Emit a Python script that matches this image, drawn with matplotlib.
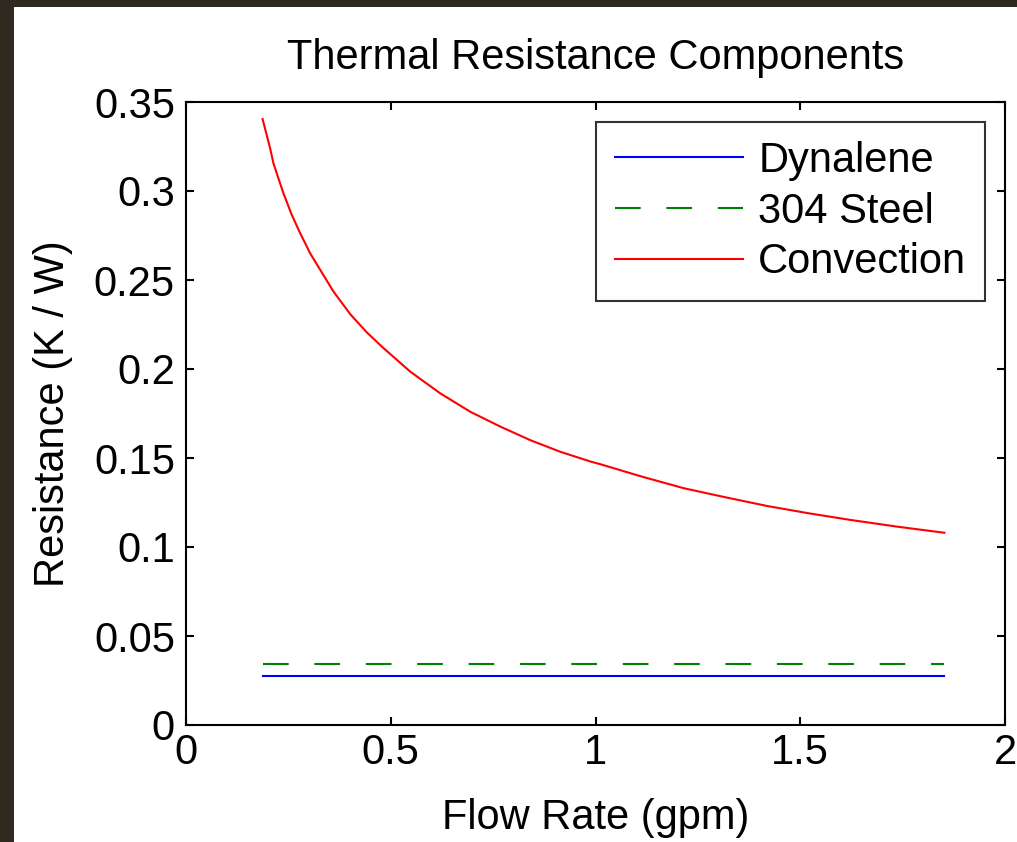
import matplotlib
matplotlib.use("Agg")
import matplotlib.pyplot as plt
from matplotlib.patches import Rectangle

# values
flow = [0.187, 0.197, 0.2054, 0.2135, 0.2257, 0.238, 0.2584, 0.279, 0.3032, 0.328,
        0.3602, 0.401, 0.4418, 0.482, 0.523, 0.5477, 0.621, 0.694, 0.768, 0.841,
        0.914, 0.988, 1.012, 1.086, 1.114, 1.216, 1.318, 1.42, 1.5216, 1.623,
        1.7376, 1.852]
convection = [0.3404, 0.3315, 0.324, 0.3156, 0.3071, 0.2987, 0.2865, 0.2762, 0.265, 0.2556,
              0.2435, 0.2308, 0.2205, 0.2118, 0.2035, 0.1985, 0.1863, 0.176, 0.1676, 0.160,
              0.1535, 0.148, 0.1465, 0.1414, 0.1395, 0.133, 0.1279, 0.123, 0.1189, 0.1152,
              0.1114, 0.108]
flow_ends = [0.187, 1.852]
dynalene = [0.0275, 0.0275]
steel = [0.0344, 0.0344]

xticks = [0, 0.5, 1, 1.5, 2]
xticklabels = ["0", "0.5", "1", "1.5", "2"]
yticks = [0, 0.05, 0.1, 0.15, 0.2, 0.25, 0.3, 0.35]
yticklabels = ["0", "0.05", "0.1", "0.15", "0.2", "0.25", "0.3", "0.35"]

plt.rcParams['font.family'] = ['Liberation Sans', 'DejaVu Sans']
plt.rcParams['lines.scale_dashes'] = False

fig = plt.figure(figsize=(10.17, 8.42), dpi=100, facecolor='white')
# dark frame on top / left
dark = '#2e2a20'
fig.patches.append(Rectangle((0, 0), 14 / 1017, 1, transform=fig.transFigure,
                             facecolor=dark, edgecolor='none', zorder=-1))
fig.patches.append(Rectangle((0, 1 - 7 / 842), 1, 7 / 842, transform=fig.transFigure,
                             facecolor=dark, edgecolor='none', zorder=-1))

ax = fig.add_axes([186 / 1017, 1 - 725 / 842, (1005 - 186) / 1017, (725 - 102) / 842])

ax.plot(flow_ends, dynalene, color='#0000ff', lw=1.5, label='Dynalene')
ax.plot(flow_ends, steel, color='#008000', lw=1.5, dashes=(18.5, 18.5), label='304 Steel')
ax.plot(flow, convection, color='#ff0000', lw=1.5, label='Convection')

ax.set_xlim(0, 2)
ax.set_ylim(0, 0.35)
ax.set_xticks(xticks)
ax.set_xticklabels(xticklabels)
ax.set_yticks(yticks)
ax.set_yticklabels(yticklabels)
ax.tick_params(direction='in', length=6, width=1.5, labelsize=30, top=True, right=True)
ax.tick_params(axis='x', pad=6)
ax.tick_params(axis='y', pad=8)
for s in ax.spines.values():
    s.set_linewidth(1.5)

ax.set_title('Thermal Resistance Components', fontsize=30, pad=24)
ax.set_xlabel('Flow Rate (gpm)', fontsize=30, labelpad=18)
ax.set_ylabel('Resistance (K / W)', fontsize=30, labelpad=15)

leg = ax.legend(loc='upper right', fontsize=30, handlelength=3.07, handletextpad=0.36,
                labelspacing=0.26, borderpad=0.45, borderaxespad=0.48, fancybox=False)
leg.get_frame().set_edgecolor('black')
leg.get_frame().set_linewidth(1.5)

fig.savefig('out.png', dpi=100, facecolor=fig.get_facecolor())
